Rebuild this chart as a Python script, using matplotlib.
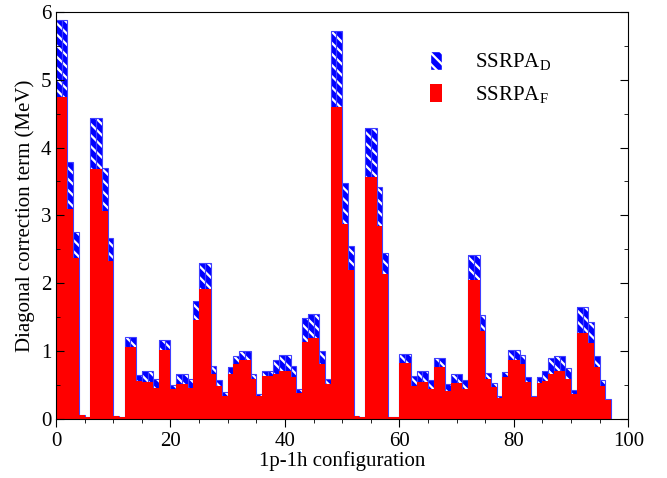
import numpy as np
import matplotlib.pyplot as plt
from matplotlib.patches import Patch

# diagonal correction term per 1p-1h configuration (MeV)
ssrpa_d = [5.88, 5.88, 3.79, 2.75, 0.05, 0.03, 4.44, 4.44, 3.70, 2.67,
           0.04, 0.02, 1.21, 1.21, 0.64, 0.71, 0.71, 0.59, 1.16, 1.16,
           0.50, 0.66, 0.66, 0.58, 1.73, 2.29, 2.29, 0.78, 0.57, 0.39,
           0.76, 0.92, 1.00, 1.00, 0.66, 0.37, 0.71, 0.71, 0.86, 0.94,
           0.94, 0.78, 0.44, 1.49, 1.54, 1.54, 1.00, 0.59, 5.72, 5.72,
           3.48, 2.55, 0.04, 0.02, 4.29, 4.29, 3.42, 2.45, 0.02, 0.02,
           0.96, 0.96, 0.63, 0.70, 0.70, 0.57, 0.89, 0.89, 0.51, 0.66,
           0.66, 0.57, 2.42, 2.42, 1.53, 0.68, 0.52, 0.33, 0.69, 1.02,
           1.02, 0.94, 0.62, 0.34, 0.61, 0.70, 0.89, 0.93, 0.93, 0.75,
           0.43, 1.65, 1.65, 1.43, 0.93, 0.57, 0.29]
ssrpa_f = [4.75, 4.75, 3.10, 2.37, 0.05, 0.03, 3.68, 3.68, 3.06, 2.32,
           0.04, 0.02, 1.06, 1.06, 0.56, 0.54, 0.54, 0.46, 1.02, 1.02,
           0.44, 0.51, 0.51, 0.45, 1.46, 1.92, 1.92, 0.66, 0.49, 0.34,
           0.66, 0.80, 0.86, 0.86, 0.58, 0.33, 0.63, 0.63, 0.66, 0.70,
           0.70, 0.61, 0.38, 1.13, 1.19, 1.19, 0.81, 0.51, 4.60, 4.60,
           2.87, 2.20, 0.04, 0.02, 3.56, 3.56, 2.84, 2.14, 0.02, 0.02,
           0.82, 0.82, 0.49, 0.54, 0.54, 0.44, 0.76, 0.76, 0.41, 0.52,
           0.52, 0.44, 2.04, 2.04, 1.30, 0.58, 0.47, 0.31, 0.61, 0.86,
           0.86, 0.80, 0.54, 0.32, 0.52, 0.56, 0.66, 0.70, 0.70, 0.59,
           0.36, 1.27, 1.27, 1.11, 0.76, 0.48, 0.27]

plt.rcParams['font.family'] = ['Liberation Serif', 'DejaVu Serif']
plt.rcParams['hatch.linewidth'] = 1.6

fig = plt.figure(figsize=(6.67, 4.78), dpi=100)
ax = fig.add_axes([0.084, 0.124, 0.858, 0.851])

x = np.arange(len(ssrpa_d))
ax.bar(x, ssrpa_d, width=1, align='edge', color='blue', edgecolor='white',
       hatch='\\\\\\', linewidth=0)
ax.bar(x, ssrpa_d, width=1, align='edge', fill=False, edgecolor='#4040ff', linewidth=0.8)
ax.bar(x, ssrpa_f, width=1, align='edge', color='red', linewidth=0)

ax.set_xlim(0, 100)
ax.set_ylim(0, 6)
ax.set_xticks(np.arange(0, 101, 20))
ax.set_xticks(np.arange(0, 101, 5), minor=True)
ax.set_yticks(np.arange(0, 7, 1))
ax.set_yticks(np.arange(0, 6.01, 0.5), minor=True)
ax.tick_params(axis='both', which='both', labelsize=15, right=True, direction='in')
ax.tick_params(axis='x', which='both', direction='out')
ax.tick_params(which='major', length=6)
ax.tick_params(which='minor', length=3)
ax.set_xlabel('1p-1h configuration', fontsize=15, labelpad=0)
ax.set_ylabel('Diagonal correction term (MeV)', fontsize=15)

handles = [Patch(facecolor='blue', edgecolor='white', hatch='\\\\\\'),
           Patch(facecolor='red')]
ax.legend(handles, ['SSRPA$_\\mathregular{D}$', 'SSRPA$_\\mathregular{F}$'],
          loc='upper left', bbox_to_anchor=(0.62, 0.95), frameon=False,
          fontsize=15, handlelength=0.6, handleheight=1.0, handletextpad=1.6)

fig.savefig('out.png', dpi=100)
